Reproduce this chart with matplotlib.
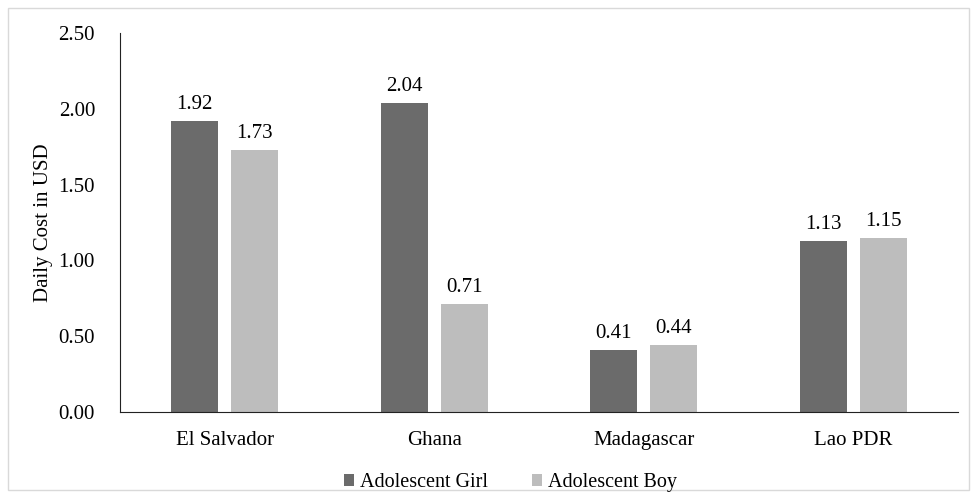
import numpy as np
import matplotlib.pyplot as plt
from matplotlib.patches import Rectangle

# Daily cost per country
countries = ['El Salvador', 'Ghana', 'Madagascar', 'Lao PDR']
girl_cost = [1.92, 2.04, 0.41, 1.13]
boy_cost = [1.73, 0.71, 0.44, 1.15]
y_ticks = [0.0, 0.5, 1.0, 1.5, 2.0, 2.5]

plt.rcParams['font.family'] = ['Liberation Serif', 'DejaVu Serif']
plt.rcParams['font.size'] = 15

fig = plt.figure(figsize=(9.78, 4.98), dpi=100)
ax = fig.add_axes([0.1227, 0.1727, 0.857, 0.761])

x = np.arange(len(countries))
width = 0.225
offset = 0.143
b1 = ax.bar(x - offset, girl_cost, width, color='#6b6b6b', label='Adolescent Girl')
b2 = ax.bar(x + offset, boy_cost, width, color='#bdbdbd', label='Adolescent Boy')

for bars in (b1, b2):
    for rect in bars:
        h = rect.get_height()
        ax.annotate(f'{h:.2f}', (rect.get_x() + rect.get_width() / 2, h),
                    xytext=(0, 5), textcoords='offset points',
                    ha='center', va='bottom')

ax.set_xlim(-0.5, len(countries) - 0.5)
ax.set_ylim(0, 2.5)
ax.set_yticks(y_ticks)
ax.set_yticklabels([f'{t:.2f}' for t in y_ticks])
ax.set_xticks(x)
ax.set_xticklabels(countries)
ax.tick_params(axis='x', length=0, pad=14)
ax.tick_params(axis='y', length=0, pad=18)
ax.set_ylabel('Daily Cost in USD', labelpad=4)

for side in ('top', 'right'):
    ax.spines[side].set_visible(False)
ax.spines['left'].set_color('#222222')
ax.spines['bottom'].set_color('#222222')

fig.legend(loc='lower center', bbox_to_anchor=(0.522, -0.025), ncol=2, frameon=False,
           fontsize=14.5, handlelength=0.5, handleheight=0.5, handletextpad=0.3,
           columnspacing=2.2)

fig.patches.append(Rectangle((8 / 978, 8 / 498), 961 / 978, 482 / 498,
                             transform=fig.transFigure, fill=False,
                             edgecolor='#d9d9d9', linewidth=1))

fig.savefig('out.png', dpi=100)
